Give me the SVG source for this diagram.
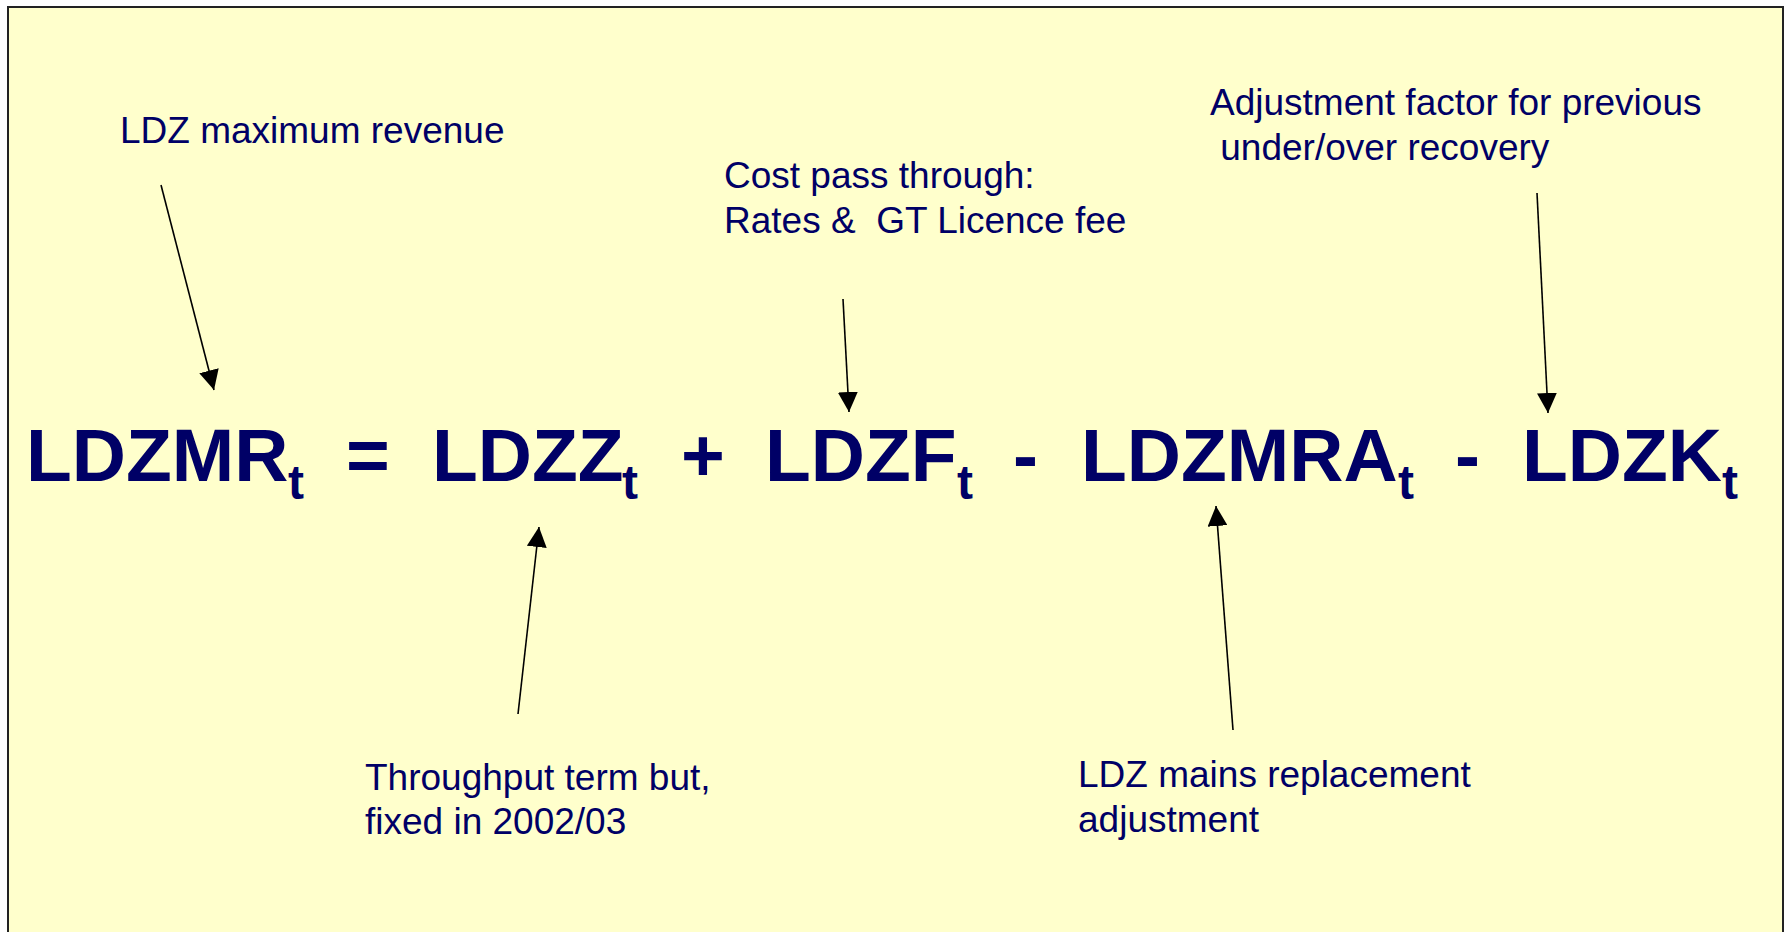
<svg xmlns="http://www.w3.org/2000/svg" width="1789" height="932" viewBox="0 0 1789 932">
<style>
.lbl{font-family:"Liberation Sans",Arial,sans-serif;font-size:37px;fill:#000066;white-space:pre}
.eq{font-family:"Liberation Sans",Arial,sans-serif;font-size:75px;font-weight:bold;fill:#000066}
.sub{font-family:"Liberation Sans",Arial,sans-serif;font-size:48px;font-weight:bold;fill:#000066}
.conn{stroke:#000;stroke-width:1.6;fill:none;marker-end:url(#ah)}
</style>
<defs>
<marker id="ah" markerUnits="userSpaceOnUse" markerWidth="20" markerHeight="20" refX="20" refY="10" orient="auto">
<path d="M0,0 L20,10 L0,20 z" fill="#000"/>
</marker>
</defs>
<rect x="0" y="0" width="1789" height="932" fill="#ffffff"/>
<rect id="panel" x="8" y="7" width="1775" height="940" fill="#FFFFCC" stroke="#222" stroke-width="2"/>

<g id="label-max-revenue"><text class="lbl" x="120" y="143">LDZ maximum revenue</text></g>
<g id="label-cost-pass"><text class="lbl" x="724" y="188">Cost pass through:</text><text class="lbl" x="724" y="233" xml:space="preserve">Rates &amp;  GT Licence fee</text></g>
<g id="label-adjustment"><text class="lbl" x="1210" y="115">Adjustment factor for previous</text><text class="lbl" x="1210" y="160" xml:space="preserve"> under/over recovery</text></g>
<g id="label-throughput"><text class="lbl" x="365" y="790">Throughput term but,</text><text class="lbl" x="365" y="834">fixed in 2002/03</text></g>
<g id="label-mains"><text class="lbl" x="1078" y="787">LDZ mains replacement</text><text class="lbl" x="1078" y="832">adjustment</text></g>

<g id="term-LDZMR"><text class="eq" x="26" y="481">LDZMR</text><text class="sub" x="288" y="499">t</text></g>
<g id="op-eq"><text class="eq" x="346" y="481">=</text></g>
<g id="term-LDZZ"><text class="eq" x="432" y="481">LDZZ</text><text class="sub" x="622" y="499">t</text></g>
<g id="op-plus"><text class="eq" x="681" y="481">+</text></g>
<g id="term-LDZF"><text class="eq" x="765" y="481">LDZF</text><text class="sub" x="957" y="499">t</text></g>
<g id="op-minus1"><text class="eq" x="1013" y="481">-</text></g>
<g id="term-LDZMRA"><text class="eq" x="1081" y="481">LDZMRA</text><text class="sub" x="1398" y="499">t</text></g>
<g id="op-minus2"><text class="eq" x="1455" y="481">-</text></g>
<g id="term-LDZK"><text class="eq" x="1522" y="481">LDZK</text><text class="sub" x="1722" y="499">t</text></g>

<g id="connectors">
<line class="conn" x1="161" y1="185" x2="214" y2="390"/>
<line class="conn" x1="843" y1="299" x2="849" y2="412"/>
<line class="conn" x1="1537" y1="193" x2="1548" y2="413"/>
<line class="conn" x1="518" y1="714" x2="539" y2="527"/>
<line class="conn" x1="1233" y1="730" x2="1216" y2="506"/>
</g>
</svg>
